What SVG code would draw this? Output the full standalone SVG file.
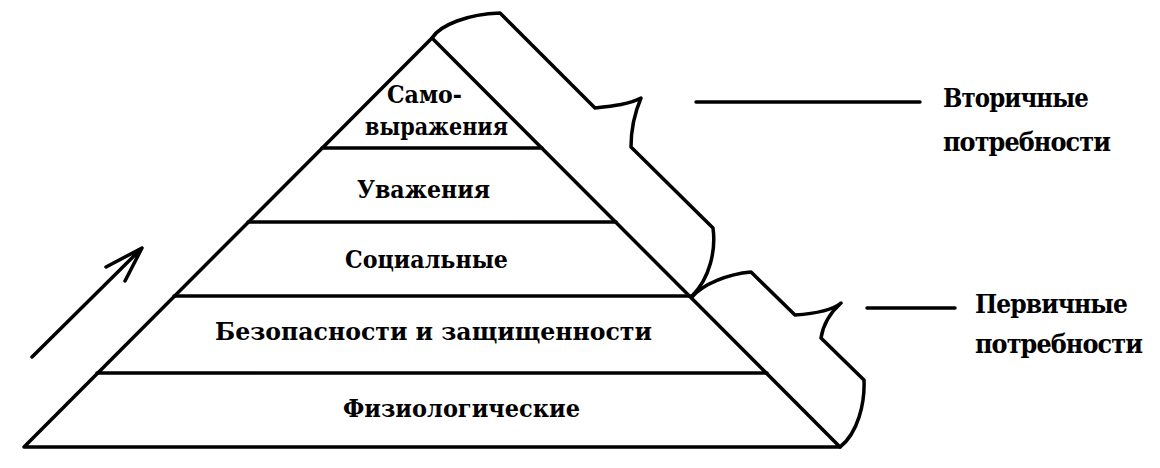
<svg xmlns="http://www.w3.org/2000/svg" width="1160" height="468" viewBox="0 0 1160 468">
<style>
.ln{fill:none;stroke:#000;stroke-width:3.5;stroke-linejoin:round;stroke-linecap:round}
.t{font-family:"DejaVu Serif","Liberation Serif",serif;font-weight:bold;fill:#000}
.p{font-size:25px}
.r{font-size:26px;letter-spacing:-1px}
</style>
<rect width="1160" height="468" fill="#fff"/>
<g id="pyramid">
<path class="ln" d="M24,447 L432,38 L840,447 Z"/>
</g>
<g id="level-self">
<text class="t p" x="387" y="103" textLength="75" lengthAdjust="spacingAndGlyphs">Само-</text>
<text class="t p" x="365" y="135" textLength="143" lengthAdjust="spacingAndGlyphs">выражения</text>
<line class="ln" x1="322" y1="148" x2="542" y2="148"/>
</g>
<g id="level-esteem">
<text class="t p" x="357" y="198" textLength="133" lengthAdjust="spacingAndGlyphs">Уважения</text>
<line class="ln" x1="248" y1="222" x2="616" y2="222"/>
</g>
<g id="level-social">
<text class="t p" x="345" y="268" textLength="163" lengthAdjust="spacingAndGlyphs">Социальные</text>
<line class="ln" x1="174" y1="296" x2="690" y2="296"/>
</g>
<g id="level-safety">
<text class="t p" x="215" y="340" textLength="437" lengthAdjust="spacingAndGlyphs">Безопасности и защищенности</text>
<line class="ln" x1="97" y1="373" x2="767" y2="373"/>
</g>
<g id="level-physio">
<text class="t p" x="343" y="417" textLength="237" lengthAdjust="spacingAndGlyphs">Физиологические</text>
</g>
<g id="brace-secondary">
<path class="ln" d="M432,38 C440,25 468,14 500,13 L595,108 C614,106 630,104 641,98 C635,112 631,130 631,147 L713,228 C716,250 710,278 692,296"/>
</g>
<g id="brace-primary">
<path class="ln" d="M692,297 C703,284 728,274 751,272 L795,315 C810,314 830,312 841,303 C831,312 823,325 821,338 L864,380 C865,403 858,433 840,447"/>
</g>
<g id="label-secondary">
<text class="t r" x="943" y="107" textLength="145" lengthAdjust="spacingAndGlyphs">Вторичные</text>
<text class="t r" x="943" y="151" textLength="167" lengthAdjust="spacingAndGlyphs">потребности</text>
</g>
<g id="label-primary">
<text class="t r" x="975" y="313" textLength="152" lengthAdjust="spacingAndGlyphs">Первичные</text>
<text class="t r" x="975" y="353" textLength="167" lengthAdjust="spacingAndGlyphs">потребности</text>
</g>
<g id="connectors">
<line class="ln" x1="696" y1="102" x2="920" y2="102"/>
<line class="ln" x1="867" y1="308" x2="955" y2="308"/>
<path class="ln" d="M32,357 L142,248 M106,267 L142,248 L125,281"/>
</g>
</svg>
